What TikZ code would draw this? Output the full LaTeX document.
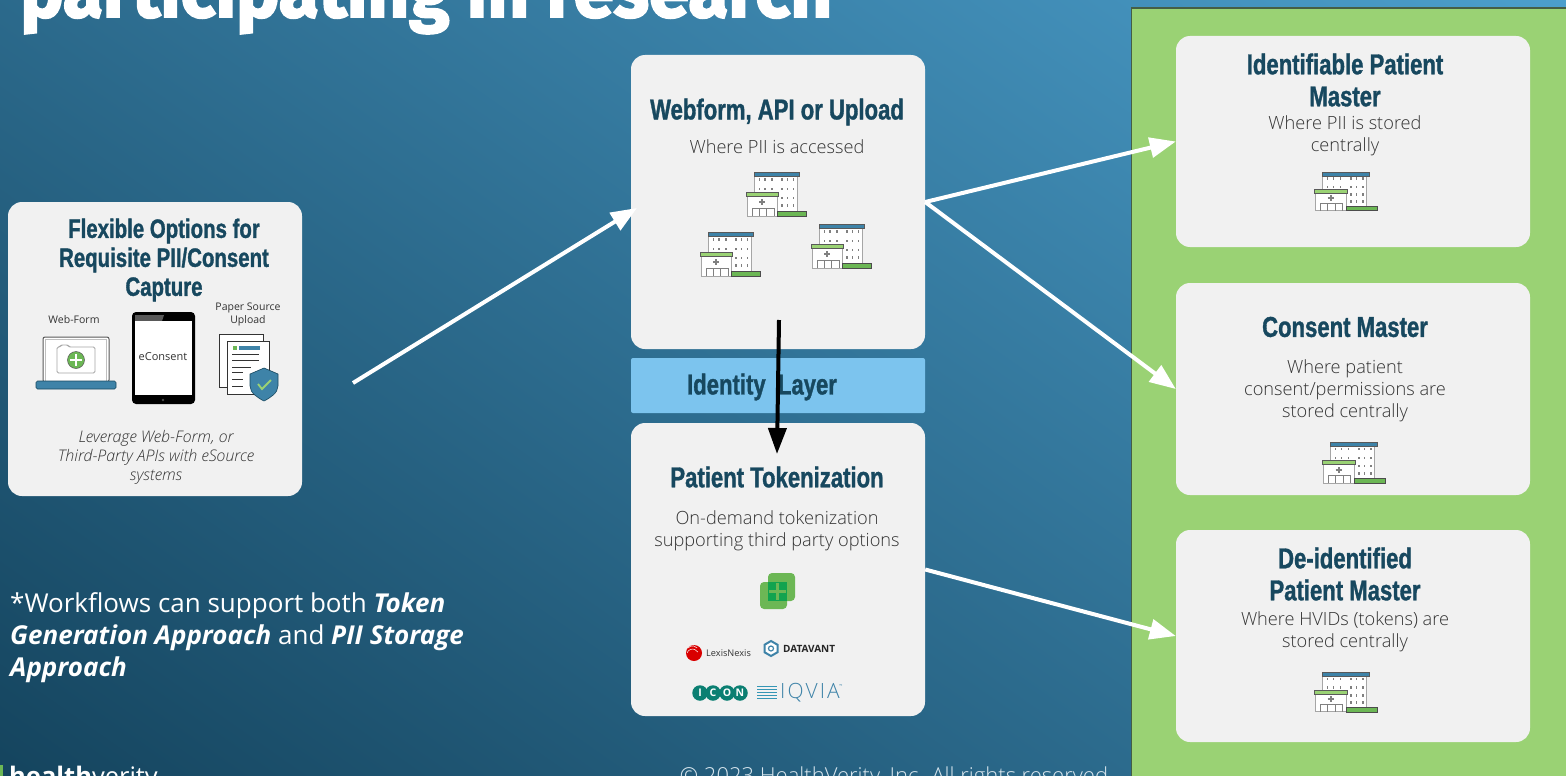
\documentclass[tikz,border=0pt]{standalone}
\usepackage{fontspec}
\setmainfont{Open Sans}[UprightFont=* Light,ItalicFont=* Light Italic,BoldFont=*,BoldItalicFont=* Bold Italic]
\newfontfamily\bodyfont{Open Sans}
\newfontfamily\headfont[FakeStretch=0.77,BoldFeatures={FakeBold=1.2}]{Liberation Sans}
\newfontfamily\titlefont[FakeStretch=0.958,BoldFeatures={FakeBold=2.5}]{Fira Sans}
\usetikzlibrary{arrows.meta,shapes.geometric}
\definecolor{headblue}{HTML}{17485F}
\definecolor{panelgreen}{HTML}{9AD274}
\definecolor{boxgray}{HTML}{F1F1F1}
\definecolor{layerblue}{HTML}{7CC4EE}
\definecolor{iconblue}{HTML}{3E83A8}
\definecolor{leafgreen}{HTML}{6CB755}
\definecolor{bodygray}{HTML}{333333}
\definecolor{bgdark}{HTML}{04293D}
\definecolor{bglight}{HTML}{53ABDB}
\definecolor{iconteal}{HTML}{0B7F72}
\definecolor{crossgreen}{HTML}{12A34F}
\tikzset{
    card/.style={fill=boxgray,rounded corners=14pt,inner sep=0pt,minimum width=#1,anchor=center},
    cardhead/.style={text=headblue,align=center,font=\headfont\bfseries\fontsize{28.7}{32}\selectfont},
    cardbody/.style={text=bodygray,align=center,font=\fontsize{18.2}{22}\selectfont},
    whitearrow/.style={white,line width=4pt,-{Triangle[length=26pt,width=20pt]}},
    hospital/.pic={
        \fill[white] (0.5,4.5) rectangle (43,40);
        \draw[gray!70,line width=1pt] (0.5,4.5) -- (0.5,20) (43,4.5) -- (43,40);
        \fill[iconblue,draw=gray!70!black,line width=0.5pt] (0,0) rectangle (45,4.5);
        \foreach \wx in {5.3,11,17.7,27.7,33.3,39.3}
            \foreach \wy in {7.7,17}
                \fill[gray] (\wx-0.8,\wy-1.4) rectangle (\wx+0.8,\wy+1.4);
        \foreach \wx in {27.7,33.3,39.3}
            \foreach \wy in {26,33.7}
                \fill[gray] (\wx-0.8,\wy-1.4) rectangle (\wx+0.8,\wy+1.4);
        \fill[white,draw=gray!70,line width=0.8pt] (-6.7,24) rectangle (23.7,44.3);
        \fill[panelgreen,draw=gray!70!black,line width=0.5pt] (-7.7,20) rectangle (24.7,24.3);
        \draw[gray,line width=0.8pt] (-2,44.3) |- (20,36) -- (20,44.3) (5.3,36) -- (5.3,44.3) (12.6,36) -- (12.6,44.3);
        \draw[gray,line width=1.8pt] (8.3,27) -- (8.3,33) (5.3,30) -- (11.3,30);
        \fill[leafgreen,draw=gray!60!black,line width=0.5pt] (23.7,39.3) rectangle (52.7,44.3);
    }
}
\begin{document}
\begin{tikzpicture}[x=1pt,y=-1pt]
    \useasboundingbox (0,0) rectangle (1566,776);
    \clip (0,0) rectangle (1566,776);
    \shade[left color=bgdark,right color=bglight,shading angle=145] (-535,-712) rectangle (1665,1488);
    \node[anchor=base west,inner sep=0pt,text=white,font=\titlefont\bfseries\fontsize{76}{80}\selectfont] (title) at (20,17) {participating in research};
    \fill[panelgreen,draw=gray!60!black!90!green,line width=1.6pt] (1131.5,8) rectangle (1570,780);

    \node[card=294pt,minimum height=294pt] (flexible) at (155,349) {};
    \node[card=294pt,minimum height=294pt] (webform) at (778,202) {};
    \node[fill=layerblue,rounded corners=2pt,inner sep=0pt,minimum width=294pt,minimum height=55pt] (identity) at (778,385.5) {};
    \node[card=294pt,minimum height=293pt] (token) at (778,569.5) {};
    \node[card=354pt,minimum height=211pt] (patient) at (1353,141.5) {};
    \node[card=354pt,minimum height=212pt] (consent) at (1353,389) {};
    \node[card=354pt,minimum height=212pt] (deid) at (1353,636) {};

    \node[cardhead,font=\headfont\bfseries\fontsize{26.5}{29}\selectfont] (flexiblehead) at (164,260) {Flexible Options for\\Requisite PII/Consent\\Capture};
    \node[cardhead] (webformhead) at (777,112) {Webform, API or Upload};
    \node[cardbody] (webformbody) at (777,147) {Where PII is accessed};
    \node[cardhead] (identityhead) at (762,387) {Identity\ \ Layer};
    \node[cardhead] (tokenhead) at (777,477) {Patient Tokenization};
    \node[cardbody] (tokenbody) at (777,531) {On-demand tokenization\\supporting third party options};
    \node[cardhead] (patienthead) at (1345,80) {Identifiable Patient\\Master};
    \node[cardbody] (patientbody) at (1345,136) {Where PII is stored\\centrally};
    \node[cardhead] (consenthead) at (1345,327) {Consent Master};
    \node[cardbody] (consentbody) at (1345,391) {Where patient\\consent/permissions are\\stored centrally};
    \node[cardhead] (deidhead) at (1345,574) {De-identified\\Patient Master};
    \node[cardbody] (deidbody) at (1345,632) {Where HVIDs (tokens) are\\stored centrally};

    \pic at (754,172) {hospital};
    \pic at (708,232) {hospital};
    \pic at (819,224) {hospital};
    \pic[xscale=1.04,yscale=0.87] at (1322,172) {hospital};
    \pic[xscale=1.04,yscale=0.93] at (1330,442) {hospital};
    \pic[xscale=1.04,yscale=0.9] at (1322,672) {hospital};

    \node[font=\bodyfont\fontsize{10.5}{13}\selectfont,text=bodygray] (webformlabel) at (74,320) {Web-Form};
    \node[font=\bodyfont\fontsize{10.5}{13}\selectfont,text=bodygray,align=center] (paperlabel) at (248,314) {Paper Source\\Upload};

    \fill[white,draw=gray!70!black,line width=1pt,rounded corners=2pt] (43,337) rectangle (109,382);
    \draw[gray!50,line width=0.8pt] (45.5,339.5) rectangle (106.5,381);
    \fill[white,draw=gray!70,line width=0.8pt,rounded corners=1.5pt] (57,347) -- (60,347) -- (61,345) -- (68,345) -- (69,347) -- (95,347) -- (95,373) -- (57,373) -- cycle;
    \fill[leafgreen,draw=gray!70!black,line width=0.5pt] (76,360) circle (8.5);
    \draw[white,line width=2.4pt] (76,354) -- (76,366) (70,360) -- (82,360);
    \fill[iconblue,draw=headblue,line width=0.6pt,rounded corners=1.5pt] (36,381) rectangle (116,389);

    \fill[black,rounded corners=4pt] (132,312) rectangle (195,404);
    \fill[gray!70!black] (135,315) -- (164,315) -- (162,321) -- (135,321) -- cycle;
    \fill[white] (135,321) rectangle (192,395);
    \fill[gray!60!black] (163,400) circle (1.3);
    \node[font=\bodyfont\fontsize{11}{13}\selectfont,text=bodygray] (econsent) at (163,357) {eConsent};

    \fill[white,draw=bodygray,line width=0.8pt] (219,334) rectangle (263,387);
    \fill[white,draw=bodygray,line width=0.8pt] (227,341) rectangle (269,394);
    \fill[leafgreen] (232.5,346) rectangle (236.5,350);
    \fill[iconblue] (239,346) rectangle (260,350);
    \foreach \ly/\lx in {354/259,360/259,367/251,372/243,379/243,386/243}
        \draw[bodygray,line width=0.8pt] (232,\ly) -- (\lx,\ly);
    \fill[iconblue,draw=headblue,line width=0.6pt] (264,368) -- (278,374) -- (278,386) .. controls (278,393) and (270,398) .. (264,401) .. controls (258,398) and (250,393) .. (250,386) -- (250,374) -- cycle;
    \draw[panelgreen,line width=1.8pt] (258,384) -- (262,389) -- (271,380);

    \node[text=bodygray,align=center,font=\itshape\fontsize{16}{19}\selectfont] (flexiblebody) at (156,457) {Leverage Web-Form, or\\Third-Party APIs with eSource\\systems};

    \fill[leafgreen,rounded corners=4pt] (768,573) rectangle (795,601);
    \fill[leafgreen,rounded corners=4pt] (760,582) rectangle (787,609);
    \fill[crossgreen] (768,582) rectangle (787,601);
    \draw[leafgreen,line width=3pt] (777.5,583) -- (777.5,600) (769,591.5) -- (786,591.5);

    \fill[red!85!black] (694,653) circle (8);
    \draw[white,line width=0.5pt] (688,648) arc (220:320:6) (687,653) arc (200:330:6);
    \node[anchor=west,inner sep=0pt,font=\bodyfont\fontsize{9.2}{10}\selectfont,text=bodygray] (lexis) at (706,653.5) {LexisNexis};
    \node[regular polygon,regular polygon sides=6,rotate=30,draw=iconblue,fill=white,line width=2pt,minimum size=15pt,inner sep=0pt] (datahex) at (771,648.5) {};
    \draw[iconblue,line width=1.2pt] (datahex.center) circle (2.5);
    \node[anchor=west,inner sep=0pt,font=\bodyfont\bfseries\fontsize{10}{10}\selectfont,text=black!85] (datavant) at (783,648.5) {DATAVANT};
    \foreach \ix/\ltr in {700/I,713/C,727/O,740/N}
        \node[circle,fill=iconteal,inner sep=0pt,minimum size=15.5pt,text=white,font=\bodyfont\bfseries\fontsize{10.5}{10}\selectfont] (icon\ltr) at (\ix,693) {\ltr};
    \foreach \qy in {686.5,689.5,692.5,695.5,698.5}
        \draw[iconblue!85!cyan,line width=1.6pt] (757,\qy) -- (777,\qy);
    \node[anchor=west,inner sep=0pt,font=\addfontfeature{LetterSpace=10}\fontsize{21}{20}\selectfont,text=iconblue] (iqvia) at (780,693) {IQVIA};
    \node[inner sep=0pt,font=\bodyfont\fontsize{4}{4}\selectfont,text=iconblue] (iqviatm) at (841,686) {™};

    \node[anchor=north west,inner sep=0pt,text=white,align=left,font=\bodyfont\fontsize{26}{32}\selectfont] (workflow) at (10,592) {*Workflows can support both \textbf{\textit{Token}}\\\textbf{\textit{Generation Approach}} and \textbf{\textit{PII Storage}}\\\textbf{\textit{Approach}}};

    \fill[leafgreen] (-3,765) rectangle (3,780);
    \node[anchor=base west,inner sep=0pt,text=white,font=\bodyfont\fontsize{25.5}{24}\selectfont] (logo) at (9,785) {\textbf{health}verity};
    \node[anchor=base,inner sep=0pt,text=white!80!iconblue,font=\fontsize{22}{24}\selectfont] (copyright) at (894,783) {© 2023 HealthVerity, Inc.  All rights reserved};

    \coordinate (flexout) at (353,383);
    \coordinate (webin) at (637,208);
    \coordinate (blackstart) at (779,320);
    \coordinate (blackend) at (777,454);
    \draw[whitearrow] (flexout) -- (webin);
    \draw[whitearrow] (webform.east) -- (patient.west);
    \draw[whitearrow] (webform.east) -- (consent.west);
    \draw[whitearrow] (token.east) -- (deid.west);
    \draw[black,line width=4pt,-{Triangle[length=26pt,width=18pt]}] (blackstart) -- (blackend);
\end{tikzpicture}
\end{document}
